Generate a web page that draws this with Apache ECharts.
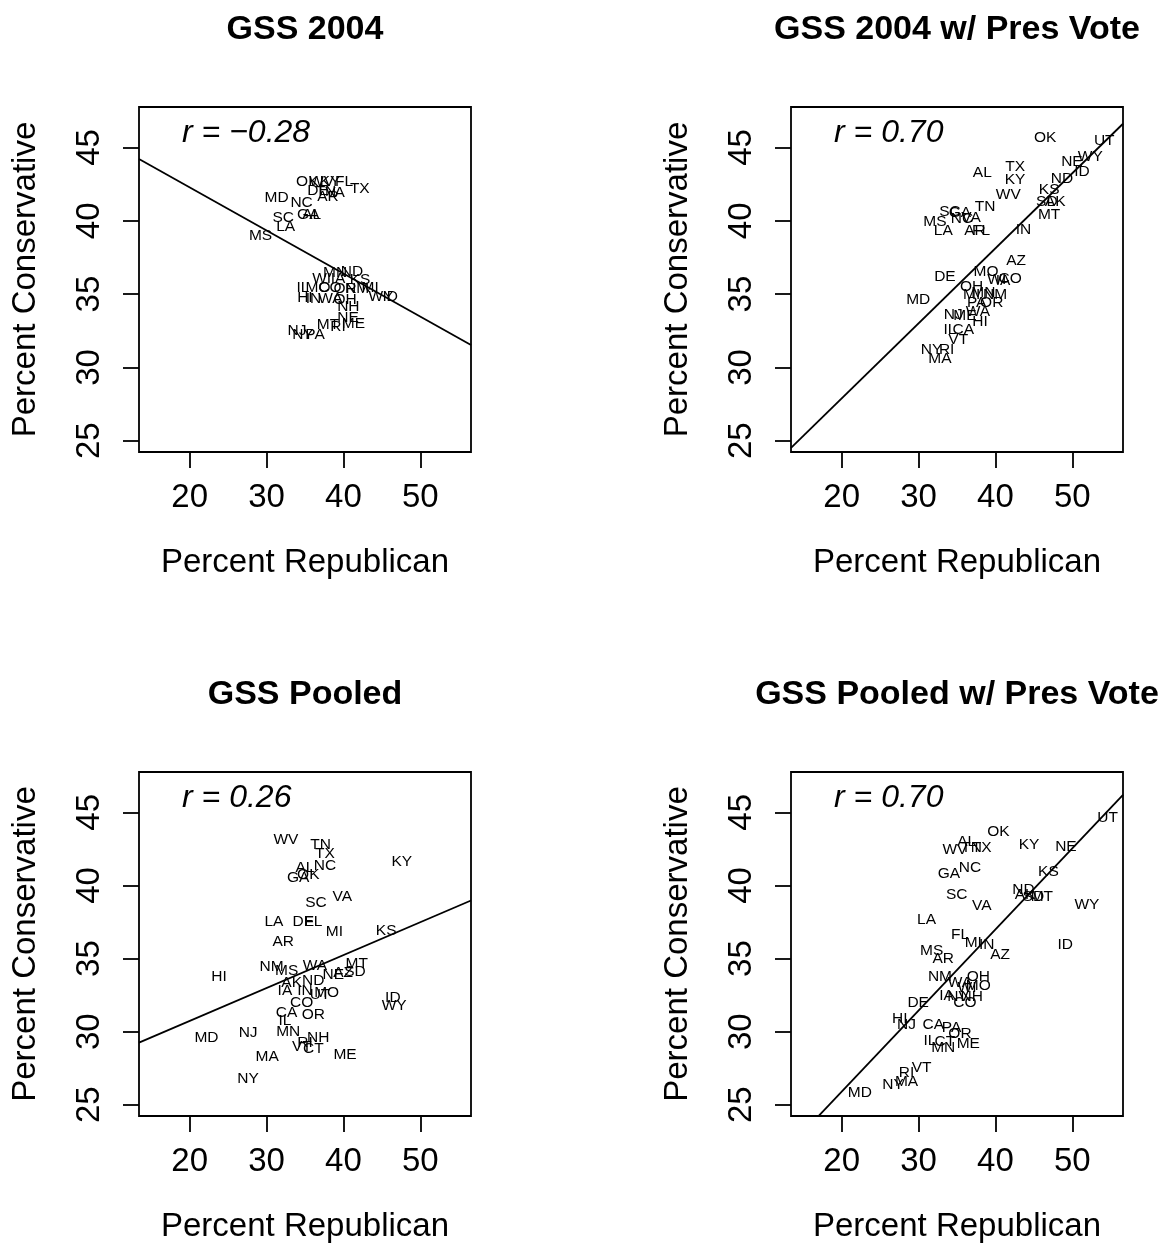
<!DOCTYPE html>
<html><head><meta charset="utf-8">
<script src="https://cdn.jsdelivr.net/npm/echarts@6/dist/echarts.min.js"></script>
<style>html,body{margin:0;padding:0;background:#fff}#c{width:1164px;height:1244px}</style>
</head><body><div id="c"></div>
<script>
// ---------------- DATA ----------------
const panelTitles = ['GSS 2004', 'GSS 2004 w/ Pres Vote', 'GSS Pooled', 'GSS Pooled w/ Pres Vote'];
const rLabels = ['r = \u22120.28', 'r = 0.70', 'r = 0.26', 'r = 0.70'];
const xTicks = [20, 30, 40, 50];
const yTicks = [25, 30, 35, 40, 45];
const xLabel = 'Percent Republican';
const yLabel = 'Percent Conservative';
const fitIntercept = [48.15, 17.66, 26.24, 14.81];
const fitSlope = [-0.2937, 0.5116, 0.2249, 0.5544];

// Panel 1: GSS 2004
const p1States = ['OK','WV','KY','FL','TX','DE','TN','AR','VA','MD','NC','GA','AL','SC','LA','MS',
  'MN','ND','WI','IA','KS','IL','MO','CO','OR','NM','MI','WY','ID','HI','IN','WA','OH','NH','NE','ME','MT','RI','NJ','NY','PA'];
const p1Rep = [35.30,37.17,38.25,40.08,42.13,36.69,37.73,37.99,38.91,31.31,34.56,35.43,35.87,32.17,32.48,29.22,
  38.91,41.12,37.17,39.30,42.17,34.73,36.69,38.25,40.21,41.77,43.47,44.90,46.08,34.99,36.10,38.30,40.21,40.64,40.60,41.29,37.99,39.30,33.95,34.73,36.30];
const p1Cons = [42.68,42.66,42.66,42.66,42.16,42.04,41.97,41.63,41.91,41.54,41.20,40.40,40.40,40.18,39.61,38.97,
  36.49,36.51,36.08,36.04,35.97,35.42,35.42,35.42,35.35,35.35,35.42,34.81,34.81,34.72,34.66,34.66,34.60,34.14,33.37,33.01,32.90,32.76,32.49,32.21,32.21];

// Panel 2: GSS 2004 w/ Pres Vote
const p2States = ['OK','UT','WY','NE','ID','ND','TX','KY','AL','WV','KS','SD','AK','MT','TN','SC','GA','NC','VA','MS','LA','AR','FL','IN',
  'AZ','DE','MO','WI','CO','IA','OH','MI','MN','NM','PA','OR','NJ','ME','WA','HI','IL','CA','VT','NY','RI','MA','MD'];
const p2Rep = [46.47,54.16,52.34,49.95,51.25,48.65,42.56,42.56,38.29,41.68,46.99,46.69,47.77,46.99,38.65,34.08,35.39,35.65,36.82,32.13,33.21,37.34,38.12,43.64,
  42.69,33.43,38.78,40.17,41.91,40.99,36.91,36.91,38.42,39.95,37.56,39.52,34.51,36.04,37.73,37.99,34.08,35.82,35.16,31.70,33.65,32.78,29.95];
const p2Cons = [45.64,45.48,44.34,44.04,43.36,42.86,43.70,42.79,43.25,41.77,42.11,41.31,41.31,40.40,40.93,40.61,40.54,40.13,40.20,39.95,39.31,39.31,39.31,39.38,
  37.28,36.19,36.53,35.97,36.08,35.90,35.51,34.94,35.06,34.94,34.38,34.38,33.58,33.51,33.78,33.12,32.60,32.60,31.87,31.19,31.19,30.62,34.60];

// Panel 3: GSS Pooled
const p3States = ['WV','TN','TX','AL','NC','GA','OK','KY','SC','VA','LA','DE','FL','MI','KS','AR','NM','MS','WA','NE','SD','MT','AZ','HI',
  'AK','ND','IA','IN','MO','UT','CO','CA','OR','IL','MD','NJ','MN','NH','RI','VT','CT','ME','MA','NY','ID','WY'];
const p3Rep = [32.52,37.04,37.60,35.00,37.60,34.12,35.43,47.60,36.43,39.86,30.95,34.77,36.08,38.82,45.56,32.17,30.65,32.61,36.30,38.69,41.51,41.74,39.95,23.82,
  33.26,36.08,32.39,35.00,37.82,36.95,34.57,32.61,36.08,32.39,22.18,27.60,32.82,36.73,35.00,34.60,36.08,40.21,30.08,27.60,46.43,46.60];
const p3Cons = [43.13,42.79,42.16,41.24,41.38,40.56,40.70,41.65,38.81,39.26,37.52,37.52,37.52,36.83,36.92,36.15,34.45,34.14,34.53,33.92,34.08,34.67,34.06,33.76,
  33.35,33.46,32.78,32.78,32.67,32.55,31.99,31.30,31.14,30.73,29.60,29.94,29.98,29.60,29.21,28.94,28.85,28.39,28.30,26.75,32.33,31.76];

// Panel 4: GSS Pooled w/ Pres Vote
const p4States = ['UT','OK','AL','TN','TX','WV','KY','NE','NC','GA','KS','SC','VA','ND','AK','SD','MT','WY','LA','FL','MI','IN','AZ','ID',
  'MS','AR','NM','OH','WA','WI','MO','IA','NV','NH','CO','DE','HI','NJ','CA','PA','OR','IL','CT','ME','MN','VT','RI','MA','NY','MD'];
const p4Rep = [54.59,40.38,36.26,36.91,38.22,34.73,44.38,49.17,36.69,33.95,46.90,34.96,38.22,43.64,43.86,44.94,46.04,51.91,31.04,35.39,37.12,38.87,40.60,49.08,
  31.70,33.21,32.78,37.77,35.39,36.30,37.77,33.65,35.13,36.91,36.04,29.95,27.56,28.44,31.91,34.30,35.39,31.48,33.43,36.47,33.21,30.39,28.44,28.44,26.69,22.35];
const p4Cons = [44.62,43.70,43.02,42.57,42.57,42.45,42.79,42.68,41.20,40.81,40.97,39.38,38.58,39.72,39.38,39.26,39.26,38.70,37.63,36.65,36.08,35.97,35.28,35.97,
  35.51,34.99,33.76,33.76,33.35,33.03,33.12,32.44,32.42,32.40,31.99,31.99,30.90,30.44,30.44,30.28,29.89,29.37,29.30,29.14,28.92,27.55,27.21,26.57,26.36,25.84];

const panelStates = [p1States, p2States, p3States, p4States];
const panelRep = [p1Rep, p2Rep, p3Rep, p4Rep];
const panelCons = [p1Cons, p2Cons, p3Cons, p4Cons];
const rLabelPos = [19, 46];

// ---------------- LAYOUT ----------------
const FONT = '"Liberation Sans", Arial, Helvetica, sans-serif';
const xMin = 13.4, xMax = 56.6, yMin = 24.23, yMax = 47.76;
const gridLeft = [139, 791, 139, 791];
const gridTop = [107, 107, 772, 772];
const gridW = 332, gridH = 345;

const chart = echarts.init(document.getElementById('c'), null, {renderer: 'canvas'});
const grids = [], xAxes = [], yAxes = [], series = [], titles = [];
const plainLabel = {color: '#000', textBorderWidth: 0, textBorderColor: 'transparent', opacity: 1, fontFamily: FONT};
for (let i = 0; i < 4; i++) {
  grids.push({left: gridLeft[i], top: gridTop[i], width: gridW, height: gridH,
    show: true, borderColor: '#000', borderWidth: 1.8, backgroundColor: 'transparent', containLabel: false});
  xAxes.push({type: 'value', gridIndex: i, min: xMin, max: xMax,
    axisLine: {show: false}, splitLine: {show: false},
    axisTick: {show: true, inside: false, length: 16, customValues: xTicks, lineStyle: {color: '#000', width: 1.8}},
    axisLabel: {show: true, customValues: xTicks, margin: 29, color: '#000', fontSize: 33, fontFamily: FONT},
    name: xLabel, nameLocation: 'middle', nameGap: 94,
    nameTextStyle: {color: '#000', fontSize: 33, fontFamily: FONT}});
  yAxes.push({type: 'value', gridIndex: i, min: yMin, max: yMax,
    axisLine: {show: false}, splitLine: {show: false},
    axisTick: {show: true, inside: false, length: 16, customValues: yTicks, lineStyle: {color: '#000', width: 1.8}},
    axisLabel: {show: true, customValues: yTicks, rotate: 90, margin: 33, color: '#000', fontSize: 33, fontFamily: FONT},
    name: yLabel, nameLocation: 'middle', nameGap: 97,
    nameTextStyle: {color: '#000', fontSize: 33, fontFamily: FONT}});
  titles.push({text: panelTitles[i], left: gridLeft[i] + gridW / 2, top: i < 2 ? 13 : 678, textAlign: 'center', padding: 0,
    textStyle: {fontSize: 34, fontWeight: 'bold', color: '#000', fontFamily: FONT, lineHeight: 34}});

  const st = panelStates[i], xs = panelRep[i], ys = panelCons[i];
  series.push({type: 'scatter', xAxisIndex: i, yAxisIndex: i, symbolSize: 0, silent: true,
    itemStyle: {opacity: 1},
    data: st.map((s, k) => ({name: s, value: [xs[k], ys[k]]})),
    label: Object.assign({show: true, position: 'inside', formatter: p => p.name, fontSize: 15.5}, plainLabel),
    labelLayout: {hideOverlap: false}, z: 3});
  series.push({type: 'line', xAxisIndex: i, yAxisIndex: i, showSymbol: false, silent: true, clip: true,
    data: [[xMin, fitIntercept[i] + fitSlope[i] * xMin], [xMax, fitIntercept[i] + fitSlope[i] * xMax]],
    lineStyle: {color: '#000', width: 1.8}, z: 2});
  series.push({type: 'scatter', xAxisIndex: i, yAxisIndex: i, symbolSize: 0, silent: true,
    itemStyle: {opacity: 1},
    data: [{name: rLabels[i], value: rLabelPos}],
    label: Object.assign({show: true, position: 'right', distance: 0, formatter: p => p.name, fontSize: 32, fontStyle: 'italic'}, plainLabel), z: 4});
}
chart.setOption({backgroundColor: '#fff', animation: false, title: titles, grid: grids, xAxis: xAxes, yAxis: yAxes, series: series});
</script></body></html>
